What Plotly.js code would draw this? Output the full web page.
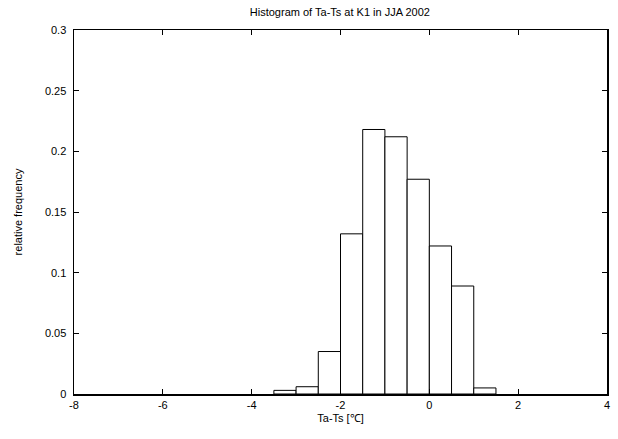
<!DOCTYPE html>
<html>
<head>
<meta charset="utf-8">
<script src="https://cdn.plot.ly/plotly-3.0.1.min.js"></script>
<style>html,body{margin:0;padding:0;background:#fff;}#chart{width:618px;height:439px;}</style>
</head>
<body>
<div id="chart"></div>
<script>
// Bin centres (bin width 0.5) and relative frequencies
var binCenters = [-3.25, -2.75, -2.25, -1.75, -1.25, -0.75, -0.25, 0.25, 0.75, 1.25];
var relFreq    = [0.003, 0.006, 0.035, 0.132, 0.218, 0.212, 0.177, 0.122, 0.089, 0.005];
var binWidth = 0.5;
var xTicks = [-8, -6, -4, -2, 0, 2, 4];
var yTicks = [0, 0.05, 0.1, 0.15, 0.2, 0.25, 0.3];
var yTickText = ['0', '0.05', '0.1', '0.15', '0.2', '0.25', '0.3'];

var font = {family: 'Liberation Sans, Arial, sans-serif', size: 11, color: '#000'};

var trace = {
  type: 'bar',
  x: binCenters,
  y: relFreq,
  width: binCenters.map(function(){return binWidth;}),
  marker: {color: '#ffffff', line: {color: '#000000', width: 1}},
  hoverinfo: 'x+y'
};

var layout = {
  width: 618, height: 439,
  margin: {l: 74, r: 11, t: 30, b: 45},
  paper_bgcolor: '#fff', plot_bgcolor: '#fff',
  font: font,
  showlegend: false,
  bargap: 0,
  title: {text: 'Histogram of Ta-Ts at K1 in JJA 2002', font: font, x: 0.55, xanchor: 'center', y: 0.972, yanchor: 'middle'},
  xaxis: {
    range: [-8, 4], tickvals: xTicks, ticktext: xTicks.map(String),
    ticks: 'inside', ticklen: 5, tickcolor: '#000', tickwidth: 1,
    showline: true, linecolor: '#000', linewidth: 1.5, mirror: 'ticks',
    showgrid: false, zeroline: false,
    tickfont: font,
    title: {text: 'Ta-Ts [℃]', font: font, standoff: 4}
  },
  yaxis: {
    range: [0, 0.3], tickvals: yTicks, ticktext: yTickText,
    ticks: 'inside', ticklen: 5, tickcolor: '#000', tickwidth: 1,
    showline: true, linecolor: '#000', linewidth: 1.5, mirror: 'ticks',
    showgrid: false, zeroline: false,
    tickfont: font, ticklabelstandoff: 4,
    title: {text: 'relative frequency', font: font, standoff: 20}
  }
};

Plotly.newPlot('chart', [trace], layout, {displayModeBar: false, staticPlot: true});
</script>
</body>
</html>
